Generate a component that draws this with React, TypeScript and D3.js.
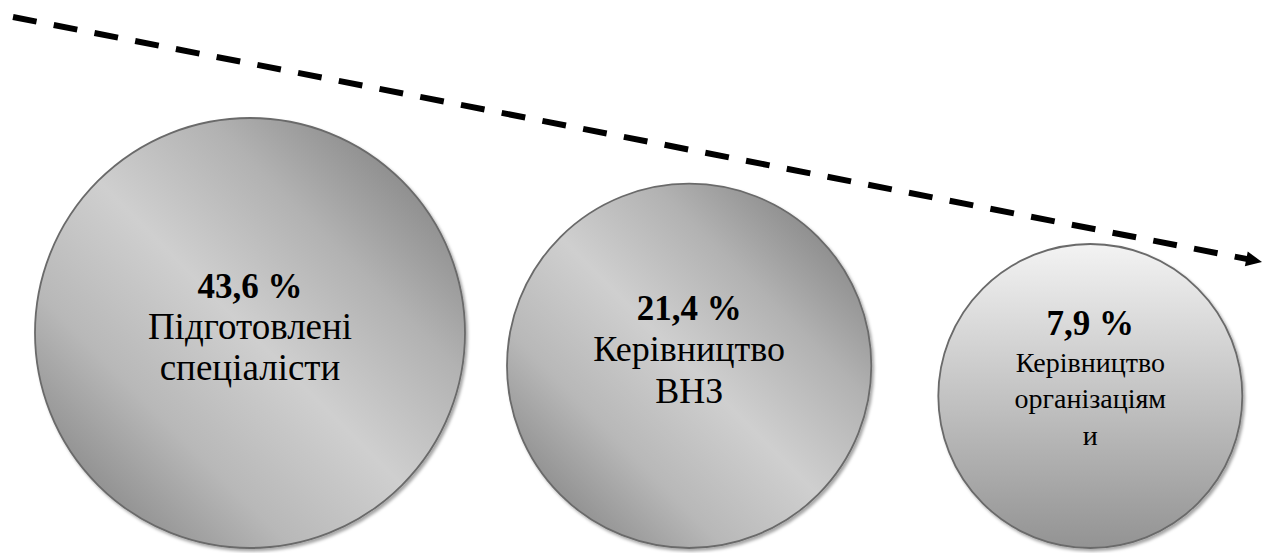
import React from "react";
import * as d3 from "d3";

// ---- data ----
const categories = ["Підготовлені спеціалісти", "Керівництво ВНЗ", "Керівництво організаціями"];
const values = [43.6, 21.4, 7.9];
const valueLabels = ["43,6 %", "21,4 %", "7,9 %"];
const labelLines = [
  ["Підготовлені", "спеціалісти"],
  ["Керівництво", "ВНЗ"],
  ["Керівництво", "організаціям", "и"],
];

// ---- layout / style ----
const W = 1264;
const H = 553;
const LEFT = 35;
const BOTTOM = 548;
const GAPS = [42, 67];
const FIRST_BASELINE = [-35, -46, -61];
const BOLD_SIZE = [35, 35, 35];
const REG_SIZE = [37, 36, 28];
const LINE_H = [41, 41.5, 36.5];
const GRADIENT = ["diag", "diag", "vert"];
const ARROW = { x1: 13, y1: 17, x2: 1262, y2: 262 };
const FONT = "Liberation Serif";

export default function App() {
  const [minV, maxV] = d3.extent(values) as [number, number];
  const r = d3.scaleSqrt().domain([minV, maxV]).range([152, 215]);

  let cursor = LEFT;
  const circles = values.map((v, i) => {
    const rad = r(v);
    const cx = cursor + rad;
    cursor = cx + rad + (GAPS[i] ?? 0);
    return { cat: categories[i], v, rad, cx, cy: BOTTOM - rad, i };
  });

  const slope = (ARROW.y2 - ARROW.y1) / (ARROW.x2 - ARROW.x1);
  const line = d3.line<[number, number]>();
  const arrowPath = line([
    [ARROW.x1, ARROW.y1],
    [ARROW.x2 - 8, ARROW.y2 - 8 * slope],
  ]);
  const ang = Math.atan2(ARROW.y2 - ARROW.y1, ARROW.x2 - ARROW.x1);
  const hl = 16, hw = 7.5;
  const tip: [number, number] = [ARROW.x2, ARROW.y2];
  const base: [number, number] = [tip[0] - hl * Math.cos(ang), tip[1] - hl * Math.sin(ang)];
  const head = d3.line<[number, number]>()([
    tip,
    [base[0] + hw * Math.sin(ang), base[1] - hw * Math.cos(ang)],
    [base[0] - hw * Math.sin(ang), base[1] + hw * Math.cos(ang)],
    tip,
  ]);

  return (
    <svg
      width={W}
      height={H}
      style={{ position: "absolute", left: 0, top: 0, background: "#fff" }}
    >
      <defs>
        <linearGradient id="gDiag2" x1="1" y1="0" x2="0" y2="1">
          <stop offset="0" stopColor="#707070" />
          <stop offset="0.3" stopColor="#b2b2b2" />
          <stop offset="0.5" stopColor="#cfcfcf" />
          <stop offset="0.7" stopColor="#b8b8b8" />
          <stop offset="1" stopColor="#707070" />
        </linearGradient>
        <linearGradient id="gVert2" x1="0" y1="0" x2="0" y2="1">
          <stop offset="0" stopColor="#f3f3f3" />
          <stop offset="1" stopColor="#939393" />
        </linearGradient>
        <filter id="shadow" x="-10%" y="-10%" width="125%" height="125%">
          <feDropShadow dx="2" dy="2.5" stdDeviation="1.5" floodColor="#000" floodOpacity="0.35" />
        </filter>
      </defs>

      <path
        d={arrowPath ?? ""}
        fill="none"
        stroke="#000"
        strokeWidth={6}
        strokeDasharray="24 17.5"
      />
      <path d={head ?? ""} fill="#000" />

      {circles.map((c) => (
        <g key={c.cat}>
          <circle
            cx={c.cx}
            cy={c.cy}
            r={c.rad}
            fill={GRADIENT[c.i] === "diag" ? "url(#gDiag2)" : "url(#gVert2)"}
            stroke="#6a6a6a"
            strokeWidth={1.8}
            filter="url(#shadow)"
          />
          <text
            x={c.cx}
            y={c.cy + FIRST_BASELINE[c.i]}
            textAnchor="middle"
            fontFamily={FONT}
            fontWeight="bold"
            fontSize={BOLD_SIZE[c.i]}
            fill="#000"
          >
            {valueLabels[c.i]}
          </text>
          {labelLines[c.i].map((ln, j) => (
            <text
              key={j}
              x={c.cx}
              y={c.cy + FIRST_BASELINE[c.i] + LINE_H[c.i] * (j + 1)}
              textAnchor="middle"
              fontFamily={FONT}
              fontSize={REG_SIZE[c.i]}
              fill="#000"
            >
              {ln}
            </text>
          ))}
        </g>
      ))}
    </svg>
  );
}
